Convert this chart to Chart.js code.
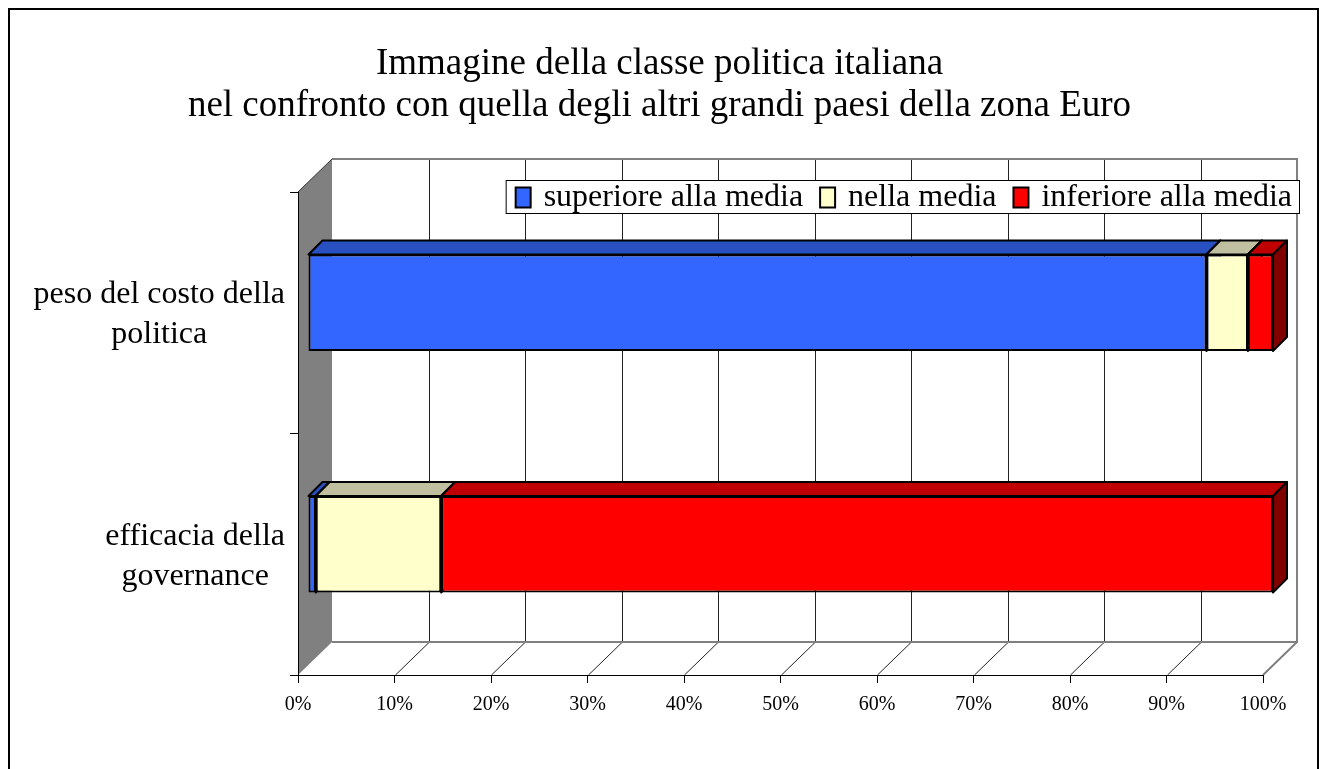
<!DOCTYPE html>
<html>
<head>
<meta charset="utf-8">
<title>Immagine della classe politica italiana</title>
<script src="https://cdn.jsdelivr.net/npm/chart.js@4.4.1/dist/chart.umd.min.js"></script>
<style>
  html, body { margin: 0; padding: 0; background: #fff; }
  canvas { display: block; }
</style>
</head>
<body>
<canvas id="chart" width="1319" height="769"></canvas>
<script>
// categories (one array of lines per label)
var categories = [['peso del costo della', 'politica'], ['efficacia della', 'governance']];
var seriesNames = ['superiore alla media', 'nella media', 'inferiore alla media'];

// percentages per category
var superiore = [93.1, 0.8];
var nellaMedia = [4.3, 13.0];
var inferiore = [2.6, 86.2];

var titleLines = ['Immagine della classe politica italiana',
                  'nel confronto con quella degli altri grandi paesi della zona Euro'];

// front / top / side colours for each series
var faceColors = [
    { front: '#3366FF', top: '#2850C0', side: '#1A338F' },
    { front: '#FFFFCC', top: '#C0C0A0', side: '#A0A080' },
    { front: '#FF0000', top: '#C00000', side: '#800000' }
];

var SERIF = '"Liberation Serif", "Times New Roman", serif';

// 3d geometry
var WALL_DX = 34, WALL_DY = 33;   // depth of the walls
var BAR_SHIFT = 10;               // bar front face sits this far inside
var BAR_DEPTH = 14;               // depth of each bar

var box3d = {
    id: 'box3d',

    beforeDraw: function(chart) {
        var ctx = chart.ctx, a = chart.chartArea, xs = chart.scales.x;
        ctx.save();

        // back wall
        ctx.fillStyle = '#fff';
        ctx.fillRect(a.left + WALL_DX, a.top - WALL_DY, a.right - a.left, a.bottom - a.top);

        // grid lines on the back wall and on the floor
        ctx.strokeStyle = '#222';
        ctx.lineWidth = 1;
        xs.ticks.forEach(function(t) {
            if (t.value <= xs.min || t.value >= xs.max) return;
            var px = Math.round(xs.getPixelForValue(t.value)) + 0.5;
            ctx.beginPath();
            ctx.moveTo(px + WALL_DX, a.top - WALL_DY);
            ctx.lineTo(px + WALL_DX, a.bottom - WALL_DY);
            ctx.moveTo(px, a.bottom);
            ctx.lineTo(px + WALL_DX, a.bottom - WALL_DY);
            ctx.stroke();
        });

        // left side wall
        ctx.fillStyle = '#808080';
        ctx.beginPath();
        ctx.moveTo(a.left, a.top);
        ctx.lineTo(a.left + WALL_DX, a.top - WALL_DY);
        ctx.lineTo(a.left + WALL_DX, a.bottom - WALL_DY);
        ctx.lineTo(a.left, a.bottom);
        ctx.closePath();
        ctx.fill();
        ctx.strokeStyle = '#333';
        ctx.beginPath();
        ctx.moveTo(a.left, a.top);
        ctx.lineTo(a.left + WALL_DX, a.top - WALL_DY);
        ctx.stroke();

        // grey frame of back wall and floor
        ctx.strokeStyle = '#808080';
        ctx.lineWidth = 2;
        ctx.beginPath();
        ctx.moveTo(a.left + WALL_DX, a.top - WALL_DY);
        ctx.lineTo(a.right + WALL_DX, a.top - WALL_DY);
        ctx.lineTo(a.right + WALL_DX, a.bottom - WALL_DY);
        ctx.lineTo(a.left + WALL_DX, a.bottom - WALL_DY);
        ctx.moveTo(a.right + WALL_DX, a.bottom - WALL_DY);
        ctx.lineTo(a.right, a.bottom);
        ctx.stroke();

        ctx.restore();
    },

    beforeDatasetsDraw: function(chart) {
        var ctx = chart.ctx;
        ctx.save();
        ctx.translate(BAR_SHIFT, -BAR_SHIFT);
        ctx.lineWidth = 2;
        ctx.lineJoin = 'round';
        ctx.strokeStyle = '#000';

        chart.data.datasets.forEach(function(ds, i) {
            var meta = chart.getDatasetMeta(i);
            meta.data.forEach(function(bar) {
                var l = Math.min(bar.x, bar.base), r = Math.max(bar.x, bar.base);
                var t = bar.y - bar.height / 2, b = bar.y + bar.height / 2;
                if (r - l < 0.5) return;
                // top face
                ctx.fillStyle = faceColors[i].top;
                ctx.beginPath();
                ctx.moveTo(l, t);
                ctx.lineTo(l + BAR_DEPTH, t - BAR_DEPTH);
                ctx.lineTo(r + BAR_DEPTH, t - BAR_DEPTH);
                ctx.lineTo(r, t);
                ctx.closePath();
                ctx.fill();
                ctx.stroke();
                // right face
                ctx.fillStyle = faceColors[i].side;
                ctx.beginPath();
                ctx.moveTo(r, t);
                ctx.lineTo(r + BAR_DEPTH, t - BAR_DEPTH);
                ctx.lineTo(r + BAR_DEPTH, b - BAR_DEPTH);
                ctx.lineTo(r, b);
                ctx.closePath();
                ctx.fill();
                ctx.stroke();
            });
        });
    },

    afterDatasetsDraw: function(chart) {
        chart.ctx.restore();
    },

    afterDraw: function(chart) {
        var ctx = chart.ctx, a = chart.chartArea, ys = chart.scales.y;
        ctx.save();

        // category labels, each block centred on itself
        ctx.font = '32px ' + SERIF;
        ctx.fillStyle = '#000';
        ctx.textAlign = 'center';
        ctx.textBaseline = 'middle';
        chart.data.labels.forEach(function(lines, i) {
            var cy = ys.getPixelForValue(i) + 2;
            var w = Math.max.apply(null, lines.map(function(s) { return ctx.measureText(s).width; }));
            var cx = a.left - 13 - w / 2;
            lines.forEach(function(s, j) {
                ctx.fillText(s, cx, cy + (j - (lines.length - 1) / 2) * 40);
            });
        });

        // legend
        var boxW = 15, boxH = 20, gapText = 13, gapItem = 17, padL = 10, padR = 7;
        var widths = chart.data.datasets.map(function(ds) { return ctx.measureText(ds.label).width; });
        var total = padL + padR;
        widths.forEach(function(w, i) { total += boxW + gapText + w + (i < widths.length - 1 ? gapItem : 0); });
        var right = a.right + WALL_DX + 2, top = a.top - 12, h = 33;
        var left = right - total;
        ctx.fillStyle = '#fff';
        ctx.fillRect(left, top, total, h);
        ctx.strokeStyle = '#000';
        ctx.lineWidth = 1;
        ctx.strokeRect(left + 0.5, top + 0.5, total, h);
        var x = left + padL, cy = top + h / 2 + 1;
        chart.data.datasets.forEach(function(ds, i) {
            ctx.fillStyle = ds.backgroundColor;
            ctx.fillRect(x, cy - boxH / 2, boxW, boxH);
            ctx.lineWidth = 2;
            ctx.strokeRect(x, cy - boxH / 2, boxW, boxH);
            x += boxW + gapText;
            ctx.fillStyle = '#000';
            ctx.textAlign = 'left';
            ctx.fillText(ds.label, x, cy);
            x += widths[i] + gapItem;
        });

        // outer frame
        ctx.strokeStyle = '#000';
        ctx.lineWidth = 2;
        ctx.strokeRect(9, 9, chart.width - 10, chart.height + 20);

        ctx.restore();
    }
};

var seriesValues = [superiore, nellaMedia, inferiore];

new Chart(document.getElementById('chart'), {
    type: 'bar',
    data: {
        labels: categories,
        datasets: seriesValues.map(function(vals, i) {
            return {
                label: seriesNames[i],
                data: vals,
                backgroundColor: faceColors[i].front,
                borderColor: '#000',
                borderWidth: 2,
                borderSkipped: false,
                barPercentage: 0.4,
                categoryPercentage: 1.0,
                clip: false
            };
        })
    },
    options: {
        indexAxis: 'y',
        responsive: false,
        animation: false,
        layout: { padding: { left: 56, right: 56, top: 0, bottom: 0 } },
        plugins: {
            legend: { display: false },
            tooltip: { enabled: false },
            title: {
                display: true,
                text: titleLines,
                color: '#000',
                font: { family: SERIF, size: 37, weight: 'normal', lineHeight: '42px' },
                padding: { top: 43, bottom: 65 }
            }
        },
        scales: {
            x: {
                type: 'linear',
                stacked: true,
                min: 0,
                max: 100,
                ticks: {
                    stepSize: 10,
                    autoSkip: false,
                    maxRotation: 0,
                    padding: 10,
                    color: '#000',
                    font: { family: SERIF, size: 20 },
                    callback: function(v) { return v + '%'; }
                },
                grid: { drawOnChartArea: false, drawTicks: true, tickLength: 8, color: '#000' },
                border: { color: '#000', width: 1 },
                afterFit: function(s) { s.height = 94; }
            },
            y: {
                stacked: true,
                ticks: { display: false },
                grid: { drawOnChartArea: false, drawTicks: true, tickLength: 8, color: '#000', offset: true },
                border: { color: '#000', width: 1 },
                afterFit: function(s) { s.width = 242; }
            }
        }
    },
    plugins: [box3d]
});
</script>
</body>
</html>
